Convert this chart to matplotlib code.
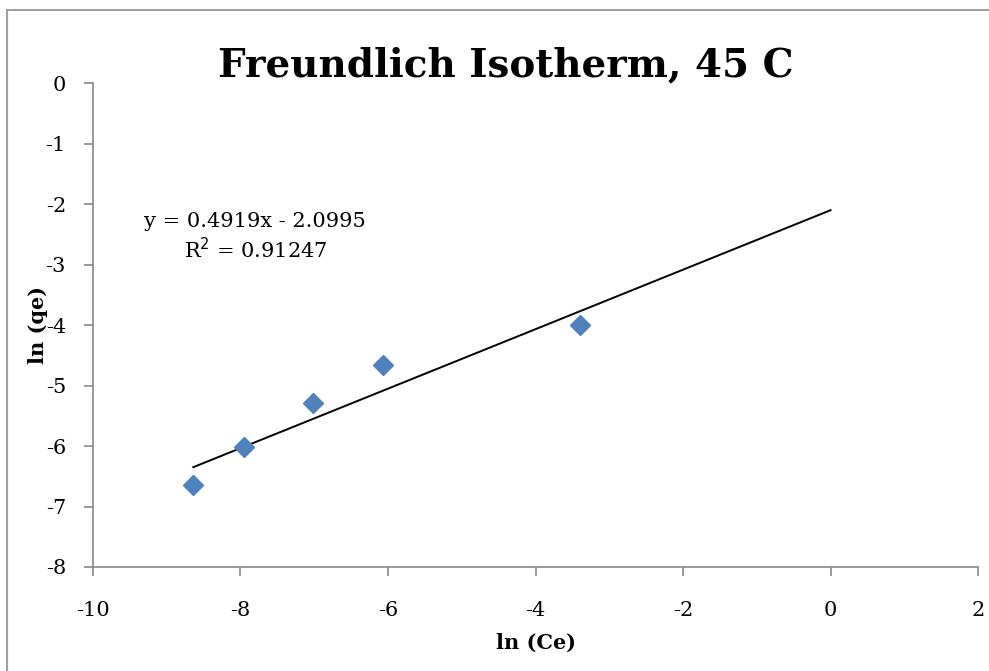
import matplotlib.pyplot as plt
import numpy as np
from matplotlib.patches import Rectangle

# data
ln_ce = [-8.64, -7.95, -7.02, -6.07, -3.40]
ln_qe = [-6.65, -6.02, -5.29, -4.66, -4.00]
slope = 0.4919
intercept = -2.0995
r2 = 0.91247

plt.rcParams['font.family'] = ['DejaVu Serif']
plt.rcParams['axes.unicode_minus'] = False

fig = plt.figure(figsize=(9.89, 6.71), dpi=100)
ax = fig.add_axes([0.094, 0.155, 0.895, 0.721])

# trendline over the range of the data up to x = 0
xt = np.array([min(ln_ce), 0])
ax.plot(xt, slope * xt + intercept, color='black', lw=1.4, zorder=2)
ax.plot(ln_ce, ln_qe, 'D', color='#4F81BD', markersize=10.5, zorder=3)

ax.set_xlim(-10, 2)
ax.set_ylim(-8, 0)
ax.set_xticks(range(-10, 3, 2))
ax.set_yticks(range(-8, 1, 1))

for s in ['top', 'right']:
    ax.spines[s].set_visible(False)
for s in ['left', 'bottom']:
    ax.spines[s].set_color('#888888')
    ax.spines[s].set_linewidth(1.2)
ax.tick_params(direction='out', length=6.5, color='#888888', width=1.2,
               labelsize=15)
ax.tick_params(axis='x', pad=18)
ax.tick_params(axis='y', pad=13)

ax.set_xlabel('ln (Ce)', fontsize=15, fontweight='bold', labelpad=9)
ax.set_ylabel('ln (qe)', fontsize=15, fontweight='bold')
ax.yaxis.set_label_coords(-0.051, 0.5)

fig.text(0.511, 0.903, 'Freundlich Isotherm, 45 C', ha='center', va='center',
         fontsize=28, fontweight='bold')

ax.text(-7.8, -2.55, f'y = {slope}x - {abs(intercept)}\nR$^2$ = {r2}',
        ha='center', va='center', fontsize=15, linespacing=1.3)

# chart area border
fig.patches.append(Rectangle((0.007, -0.05), 1.1, 1.035, transform=fig.transFigure,
                             fill=False, edgecolor='#a0a0a0', lw=1.5))

fig.savefig('out.png', dpi=100)
